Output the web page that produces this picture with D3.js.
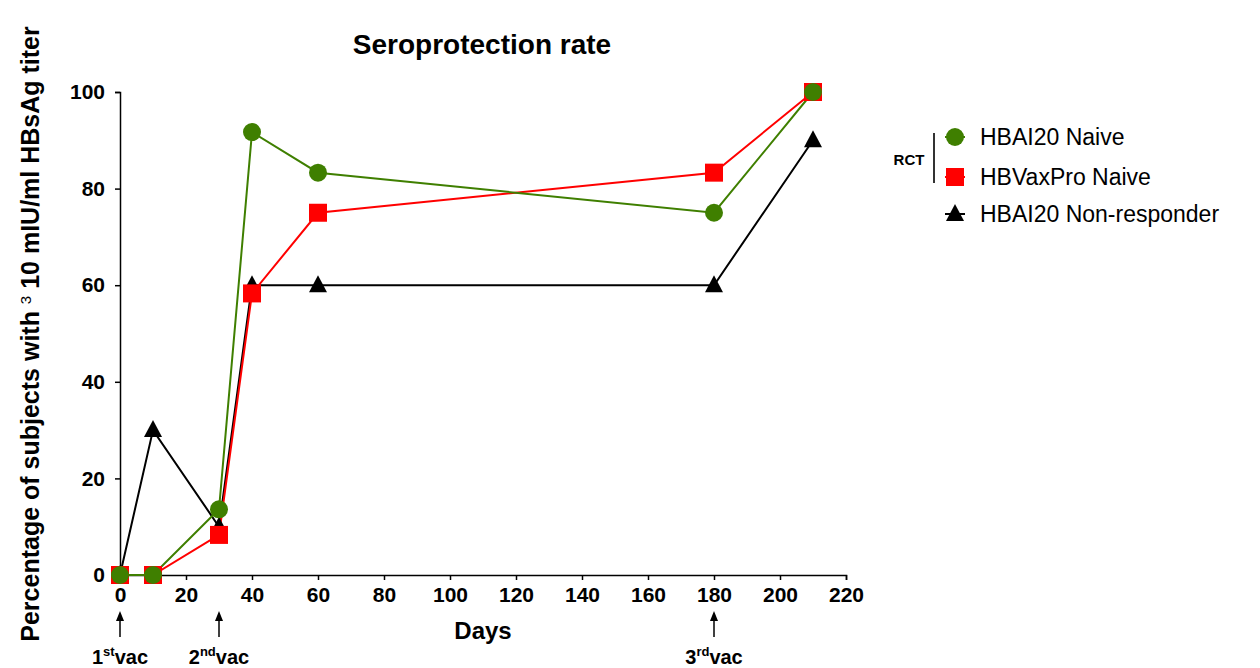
<!DOCTYPE html>
<html><head><meta charset="utf-8">
<script src="https://cdn.jsdelivr.net/npm/d3@7"></script>
<style>body{margin:0;background:#fff;overflow:hidden;} svg{display:block;font-family:Arial,"Liberation Sans",sans-serif;}</style>
</head><body>
<svg id="c" width="1260" height="668"></svg>
<script>
const days = [0, 10, 30, 40, 60, 180, 210];
const hbaiNaive = [0, 0, 13.6, 91.7, 83.3, 75, 100];
const hbvaxNaive = [0, 0, 8.3, 58.3, 75, 83.3, 100];
const hbaiNonResp = [0, 30, 10, 60, 60, 60, 90];
const xTicks = [0, 20, 40, 60, 80, 100, 120, 140, 160, 180, 200, 220];
const yTicks = [0, 20, 40, 60, 80, 100];
const vacDays = [0, 30, 180];
const vacLabels = [["1","st"],["2","nd"],["3","rd"]];
const seriesNames = ["HBAI20 Naive","HBVaxPro Naive","HBAI20 Non-responder"];

const svg = d3.select("#c");
const x = d3.scaleLinear().domain([0,220]).range([120,846]);
const y = d3.scaleLinear().domain([0,100]).range([575,92]);

// axes
const xa = svg.append("g").attr("transform","translate(0,575)")
  .call(d3.axisBottom(x).tickValues(xTicks).tickSize(5).tickPadding(7));
const ya = svg.append("g").attr("transform","translate(120,0)")
  .call(d3.axisLeft(y).tickValues(yTicks).tickSize(5).tickPadding(10));
[xa,ya].forEach(a=>{
  a.selectAll("path,line").attr("stroke","#000").attr("stroke-width",1.5);
  a.selectAll("text").attr("font-size",21).attr("font-weight","bold").attr("fill","#000")
   .attr("font-family","Arial,'Liberation Sans',sans-serif");
});

// title and labels
svg.append("text").attr("x",482).attr("y",54).attr("text-anchor","middle")
  .attr("font-size",28).attr("font-weight","bold").text("Seroprotection rate");
svg.append("text").attr("x",483).attr("y",639).attr("text-anchor","middle")
  .attr("font-size",24).attr("font-weight","bold").text("Days");
const yl = svg.append("text").attr("transform","translate(39,334) rotate(-90)")
  .attr("text-anchor","middle").attr("font-size",25).attr("font-weight","bold");
yl.append("tspan").text("Percentage of subjects with ");
yl.append("tspan").attr("font-size",15).attr("font-weight","normal").attr("dy",-8).text("3");
yl.append("tspan").attr("dy",8).text(" 10 mIU/ml  HBsAg titer");

// vaccination arrows
vacDays.forEach((d,i)=>{
  const cx = x(d);
  svg.append("line").attr("x1",cx).attr("x2",cx).attr("y1",637).attr("y2",618)
    .attr("stroke","#000").attr("stroke-width",1.5);
  svg.append("path").attr("d",`M${cx},${611} L${cx+4},${621} L${cx-4},${621} Z`).attr("fill","#000");
  const t = svg.append("text").attr("x",cx).attr("y",664).attr("text-anchor","middle")
    .attr("font-size",20).attr("font-weight","bold");
  t.append("tspan").text(vacLabels[i][0]);
  t.append("tspan").attr("font-size",13).attr("dy",-8).text(vacLabels[i][1]);
  t.append("tspan").attr("dy",8).text("vac");
});

const line = d3.line().x((d,i)=>x(days[i])).y(d=>y(d));
const series = [
  {vals:hbaiNonResp, color:"#000000", shape:"tri"},
  {vals:hbvaxNaive, color:"#ff0000", shape:"sq"},
  {vals:hbaiNaive, color:"#3f7f00", shape:"circ"}
];
series.forEach(s=>{
  svg.append("path").datum(s.vals).attr("d",line).attr("fill","none")
    .attr("stroke",s.color).attr("stroke-width",2);
});
function drawMarker(g, shape, color, cx, cy){
  if(shape==="circ") g.append("circle").attr("cx",cx).attr("cy",cy).attr("r",9).attr("fill",color);
  else if(shape==="sq") g.append("rect").attr("x",cx-9).attr("y",cy-9).attr("width",18).attr("height",18).attr("fill",color);
  else g.append("path").attr("d",`M${cx},${cy-10} L${cx+9},${cy+7} L${cx-9},${cy+7} Z`).attr("fill",color);
}
series.forEach(s=>{
  const g = svg.append("g");
  s.vals.forEach((v,i)=>drawMarker(g,s.shape,s.color,x(days[i]),y(v)));
});

// legend
const legY = [137,177,214];
const legShapes = ["circ","sq","tri"];
const legColors = ["#3f7f00","#ff0000","#000000"];
seriesNames.forEach((n,i)=>{
  svg.append("line").attr("x1",945).attr("x2",965).attr("y1",legY[i]).attr("y2",legY[i])
    .attr("stroke",legColors[i]).attr("stroke-width",2);
  drawMarker(svg,legShapes[i],legColors[i],955,legY[i]);
  svg.append("text").attr("x",980).attr("y",legY[i]+8).attr("font-size",23).text(n);
});
svg.append("line").attr("x1",934).attr("x2",934).attr("y1",133).attr("y2",183)
  .attr("stroke","#333").attr("stroke-width",2);
svg.append("text").attr("x",909).attr("y",165).attr("text-anchor","middle")
  .attr("font-size",15).attr("font-weight","bold").text("RCT");
</script>
</body></html>
